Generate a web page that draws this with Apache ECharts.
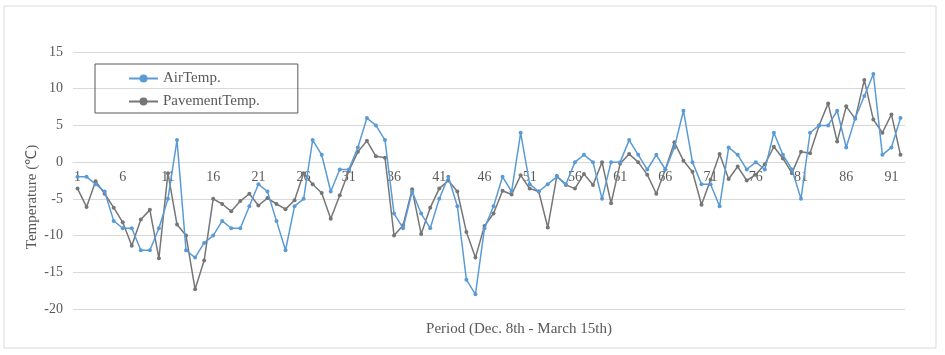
<!DOCTYPE html>
<html>
<head>
<meta charset="utf-8">
<script src="https://cdn.jsdelivr.net/npm/echarts@6/dist/echarts.min.js"></script>
<style>
html,body{margin:0;padding:0;background:#fff;}
#chart{width:945px;height:355px;}
</style>
</head>
<body>
<div id="chart"></div>
<script>
const categories = Array.from({length: 92}, (_, i) => String(i + 1));
const airTemp = [
  -2, -2, -3, -4, -8, -9, -9, -12, -12, -9,
  -5, 3, -12, -13, -11, -10, -8, -9, -9, -6,
  -3, -4, -8, -12, -6, -5, 3, 1, -4, -1,
  -1, 2, 6, 5, 3, -7, -9, -4, -7, -9,
  -5, -2, -6, -16, -18, -9, -6, -2, -4, 4,
  -3, -4, -3, -2, -3, 0, 1, 0, -5, 0,
  0, 3, 1, -1, 1, -1, 2, 7, 0, -3,
  -3, -6, 2, 1, -1, 0, -1, 4, 1, -1,
  -5, 4, 5, 5, 7, 2, 6, 9, 12, 1,
  2, 6
];
const pavementTemp = [
  -3.6, -6.1, -2.6, -4.3, -6.2, -8.2, -11.4, -7.8, -6.5, -13.1,
  -1.5, -8.5, -10, -17.3, -13.4, -5, -5.7, -6.7, -5.3, -4.3,
  -5.9, -4.9, -5.7, -6.4, -5.2, -1.5, -3, -4.2, -7.7, -4.5,
  -1.2, 1.4, 2.9, 0.8, 0.6, -10, -8.6, -3.7, -9.8, -6.2,
  -3.6, -2.5, -4, -9.5, -13, -8.7, -7, -3.9, -4.4, -1.8,
  -3.6, -4, -8.9, -1.9, -3.1, -3.6, -1.6, -3.1, 0, -5.6,
  -0.2, 1.1, 0, -1.7, -4.3, -1, 2.7, 0.2, -1.3, -5.8,
  -2.4, 1.1, -2.3, -0.6, -2.5, -1.7, -0.3, 2.1, 0.5, -1.5,
  1.4, 1.2, 5, 8, 2.8, 7.6, 5.9, 11.2, 5.8, 4,
  6.5, 1
];
const seriesNames = ['AirTemp.', 'PavementTemp.'];
const yTitle = 'Temperature (℃)';
const xTitle = 'Period (Dec. 8th - March 15th)';

const FONT = 'Liberation Serif';
const TXT = '#595959';
const chart = echarts.init(document.getElementById('chart'), null, {renderer: 'canvas'});
chart.setOption({
  animation: false,
  backgroundColor: '#fff',
  grid: {left: 73, right: 40, top: 52, bottom: 46, containLabel: false},
  legend: {
    orient: 'vertical',
    left: 95, top: 64,
    padding: [7, 38, 4, 33],
    itemGap: 8,
    itemWidth: 29, itemHeight: 10,
    borderColor: '#595959', borderWidth: 1,
    textStyle: {fontFamily: FONT, fontSize: 15, color: TXT},
    data: seriesNames
  },
  xAxis: {
    type: 'category',
    data: categories,
    boundaryGap: true,
    offset: -147,
    axisLine: {onZero: false, lineStyle: {color: '#D9D9D9'}},
    axisTick: {show: false},
    axisLabel: {interval: 4, fontFamily: FONT, fontSize: 14, color: TXT, margin: 8},
    splitLine: {show: false}
  },
  yAxis: {
    type: 'value',
    min: -20, max: 15, interval: 5,
    axisLine: {show: false},
    axisTick: {show: false},
    axisLabel: {fontFamily: FONT, fontSize: 14, color: TXT, margin: 10},
    splitLine: {lineStyle: {color: '#D9D9D9', width: 1}}
  },
  graphic: [
    {type: 'rect', shape: {x: 4, y: 6, width: 932, height: 342}, style: {fill: null, stroke: '#D9D9D9', lineWidth: 1}, silent: true, z: -1},
    {type: 'text', x: 519, y: 329, style: {text: xTitle, font: '15px "Liberation Serif"', fill: TXT, align: 'center', verticalAlign: 'middle'}},
    {type: 'text', x: 32, y: 197, rotation: Math.PI / 2, style: {text: yTitle, font: '15px "Liberation Serif"', fill: TXT, align: 'center', verticalAlign: 'middle'}}
  ],
  series: [
    {
      name: seriesNames[0], type: 'line', data: airTemp,
      symbol: 'circle', symbolSize: 4, showAllSymbol: true,
      lineStyle: {color: '#5B9BD5', width: 1.5},
      itemStyle: {color: '#5B9BD5'}, z: 3
    },
    {
      name: seriesNames[1], type: 'line', data: pavementTemp,
      symbol: 'circle', symbolSize: 4, showAllSymbol: true,
      lineStyle: {color: '#767676', width: 1.5},
      itemStyle: {color: '#767676'}, z: 2
    }
  ]
});
</script>
</body>
</html>
